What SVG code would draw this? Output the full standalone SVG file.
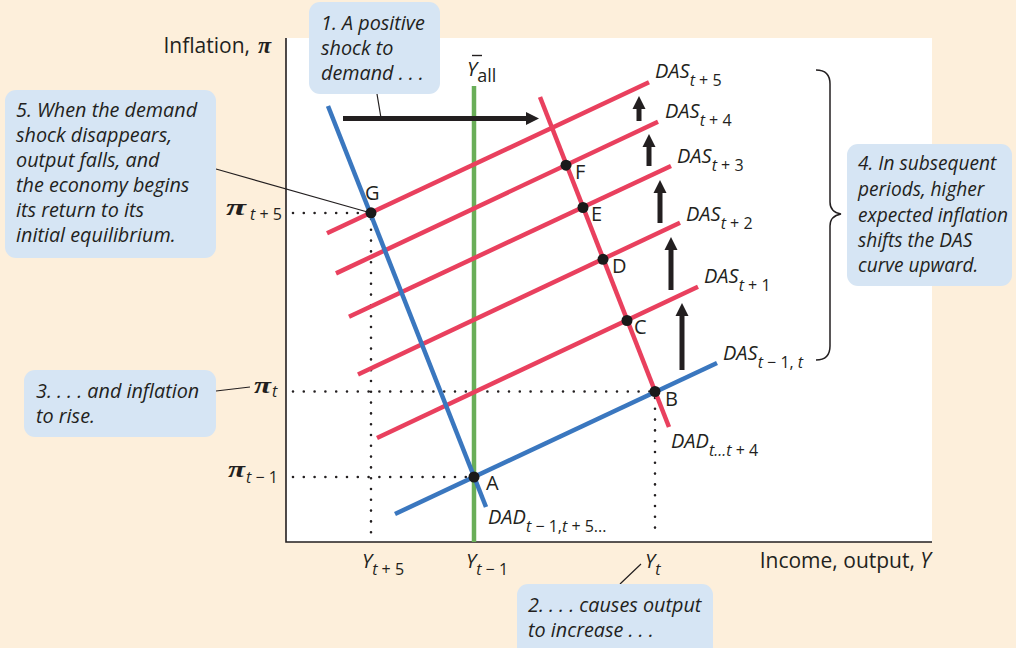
<svg xmlns="http://www.w3.org/2000/svg" width="1016" height="648" viewBox="0 0 1016 648">
<style>
.t{font-family:"Open Sans",Lato,"Liberation Sans",sans-serif;font-size:19px;fill:#231f20}
.ax{font-size:21px}
.lb{font-size:20px}
.i{font-style:italic}
.s{font-size:16px}
.n{font-style:normal}
.pi{font-family:"Liberation Serif","DejaVu Serif",serif;font-style:italic;font-weight:bold;font-size:24px;fill:#231f20}
.c{font-family:"Open Sans",Lato,"Liberation Sans",sans-serif;font-style:italic;font-size:19.8px;fill:#231f20}
.c4{font-size:19.1px}
.box{fill:#d6e5f4}
.ld{stroke:#231f20;stroke-width:1.2;fill:none}
.dot{stroke:#231f20;stroke-width:2.6;stroke-linecap:round;stroke-dasharray:0 10.8;fill:none}
.red{stroke:#e9405e;stroke-width:4.5;fill:none}
.blue{stroke:#3a77bf;stroke-width:4.5;fill:none}
.arr{stroke:#231f20;stroke-width:5;fill:none;marker-end:url(#ah)}
.pt{fill:#1a1a1a}
</style>
<defs>
<marker id="ah" markerUnits="userSpaceOnUse" markerWidth="14" markerHeight="14" viewBox="0 0 14 14" refX="1" refY="7" orient="auto">
<path d="M0,0.5 L13,7 L0,13.5 z" fill="#231f20"/>
</marker>
</defs>
<rect width="1016" height="648" fill="#fdefdb"/>
<rect x="286" y="38" width="646" height="504" fill="#ffffff"/>
<g id="axes">
<path d="M286,38 V542 H932" stroke="#231f20" stroke-width="1.6" fill="none"/>
<text class="t ax" x="250" y="53" text-anchor="end">Inflation,</text>
<text class="pi" x="258" y="53" font-weight="normal" font-size="23">π</text>
<text class="t ax" x="931" y="568" text-anchor="end" font-size="22">Income, output, <tspan class="i">Y</tspan></text>
</g>
<g id="guides">
<path class="dot" d="M293,213 H366 M293,391.5 H650 M293,477 H469 M371,219 V538 M655,398 V538"/>
</g>
<g id="connectors">
<line x1="474" y1="86" x2="474" y2="542" stroke="#6aae58" stroke-width="4.5"/>
<line class="red" x1="377" y1="438" x2="698" y2="286.7"/>
<line class="red" x1="358" y1="374.5" x2="680" y2="222.7"/>
<line class="red" x1="349" y1="316.7" x2="671" y2="166"/>
<line class="red" x1="336" y1="273.4" x2="658" y2="121.7"/>
<line class="red" x1="327" y1="233.3" x2="649" y2="82.3"/>
<line class="blue" x1="328" y1="106" x2="486" y2="507"/>
<line class="blue" x1="395" y1="514" x2="717" y2="363"/>
<line class="red" x1="540" y1="97" x2="669" y2="427"/>
<line class="arr" x1="343" y1="118.5" x2="527" y2="118.5"/>
<line class="arr" x1="682" y1="370" x2="682" y2="315"/>
<line class="arr" x1="671" y1="290" x2="671" y2="249"/>
<line class="arr" x1="660" y1="223" x2="660" y2="192"/>
<line class="arr" x1="649" y1="166" x2="649" y2="146"/>
<line class="arr" x1="639" y1="121" x2="639" y2="108"/>
<path d="M816,70 Q830,70 830,84 V202 Q830,212 841,214 Q830,216 830,226 V346 Q830,360 816,360" stroke="#231f20" stroke-width="1.5" fill="none"/>
<path class="ld" d="M377,94 L381,118 M216,169 L371,213 M216,391 L250,387 M620,584 L641,564"/>
</g>
<g id="points">
<circle class="pt" cx="474" cy="477" r="5.5"/>
<circle class="pt" cx="655" cy="391.5" r="5.5"/>
<circle class="pt" cx="627" cy="320.5" r="5.5"/>
<circle class="pt" cx="603" cy="259.3" r="5.5"/>
<circle class="pt" cx="583" cy="207.5" r="5.5"/>
<circle class="pt" cx="566" cy="165.2" r="5.5"/>
<circle class="pt" cx="371" cy="212.8" r="5.5"/>
<text class="t lb" x="486" y="490">A</text>
<text class="t lb" x="665" y="406">B</text>
<text class="t lb" x="634" y="334">C</text>
<text class="t lb" x="612" y="273">D</text>
<text class="t lb" x="591" y="221">E</text>
<text class="t lb" x="575" y="179">F</text>
<text class="t lb" x="365" y="200">G</text>
</g>
<g id="curve-labels">
<text class="t lb i" x="655" y="78">DAS<tspan class="s" dy="8">t <tspan class="n">+ 5</tspan></tspan></text>
<text class="t lb i" x="665" y="118">DAS<tspan class="s" dy="8">t <tspan class="n">+ 4</tspan></tspan></text>
<text class="t lb i" x="677" y="163">DAS<tspan class="s" dy="8">t <tspan class="n">+ 3</tspan></tspan></text>
<text class="t lb i" x="686" y="221">DAS<tspan class="s" dy="8">t <tspan class="n">+ 2</tspan></tspan></text>
<text class="t lb i" x="704" y="283">DAS<tspan class="s" dy="8">t <tspan class="n">+ 1</tspan></tspan></text>
<text class="t lb i" x="723" y="360">DAS<tspan class="s" dy="8">t <tspan class="n">− 1, </tspan>t</tspan></text>
<text class="t lb i" x="671" y="448">DAD<tspan class="s" dy="8">t...t <tspan class="n">+ 4</tspan></tspan></text>
<text class="t lb i" x="488" y="524">DAD<tspan class="s" dy="8">t <tspan class="n">− 1,</tspan>t <tspan class="n">+ 5...</tspan></tspan></text>
<text class="t lb i" x="467" y="76">Y<tspan class="n" font-size="18" dy="6">all</tspan></text>
<line x1="472" y1="55.5" x2="482" y2="55.5" stroke="#231f20" stroke-width="1.4"/>
</g>
<g id="tick-labels">
<text class="pi" x="226" y="215" textLength="20" lengthAdjust="spacingAndGlyphs">π</text>
<text class="t i s" x="250" y="220">t <tspan class="n">+ 5</tspan></text>
<text class="pi" x="254" y="393" textLength="17" lengthAdjust="spacingAndGlyphs">π</text>
<text class="t i s" x="272" y="397">t</text>
<text class="pi" x="228" y="477" textLength="17" lengthAdjust="spacingAndGlyphs">π</text>
<text class="t i s" x="246" y="483">t <tspan class="n">− 1</tspan></text>
<text class="t lb i" x="362" y="568">Y<tspan class="s" dy="7">t <tspan class="n">+ 5</tspan></tspan></text>
<text class="t lb i" x="466" y="568">Y<tspan class="s" dy="7">t <tspan class="n">− 1</tspan></tspan></text>
<text class="t lb i" x="645" y="568">Y<tspan class="s" dy="7">t</tspan></text>
</g>
<g id="callout1">
<rect class="box" x="309" y="2" width="131" height="92" rx="11"/>
<text class="c" x="321" y="30">1. A positive</text>
<text class="c" x="321" y="55">shock to</text>
<text class="c" x="321" y="80">demand . . .</text>
</g>
<g id="callout2">
<rect class="box" x="517" y="584" width="196" height="80" rx="11"/>
<text class="c" x="528" y="612">2. . . . causes output</text>
<text class="c" x="528" y="637">to increase . . .</text>
</g>
<g id="callout3">
<rect class="box" x="24" y="370" width="192" height="67" rx="11"/>
<text class="c" x="36" y="398">3. . . . and inflation</text>
<text class="c" x="36" y="423">to rise.</text>
</g>
<g id="callout4">
<rect class="box" x="847" y="144" width="165" height="142" rx="11"/>
<text class="c c4" x="858" y="170">4. In subsequent</text>
<text class="c c4" x="858" y="196">periods, higher</text>
<text class="c c4" x="858" y="221.5">expected inflation</text>
<text class="c c4" x="858" y="246.5">shifts the DAS</text>
<text class="c c4" x="858" y="271.5">curve upward.</text>
</g>
<g id="callout5">
<rect class="box" x="5" y="90" width="211" height="168" rx="11"/>
<text class="c" x="16" y="117">5. When the demand</text>
<text class="c" x="16" y="142">shock disappears,</text>
<text class="c" x="16" y="167">output falls, and</text>
<text class="c" x="16" y="192">the economy begins</text>
<text class="c" x="16" y="217">its return to its</text>
<text class="c" x="16" y="242">initial equilibrium.</text>
</g>
</svg>
